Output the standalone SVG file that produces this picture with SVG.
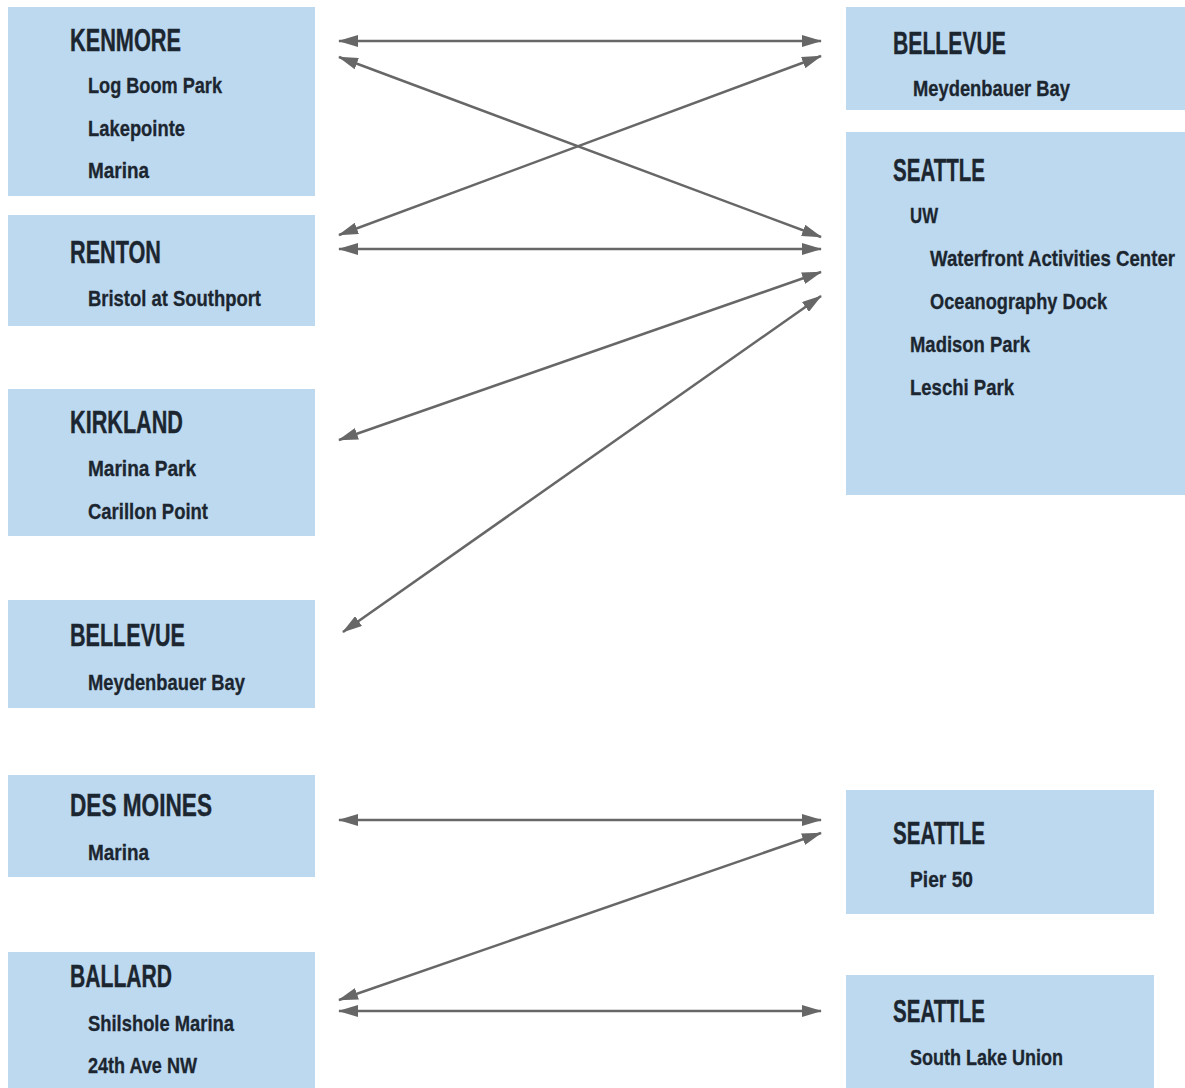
<svg xmlns="http://www.w3.org/2000/svg" width="1185" height="1088" viewBox="0 0 1185 1088">
<style>
.box{fill:#bcd9ef}
.h{font-family:"Liberation Sans Narrow","Liberation Sans",Arial,sans-serif;font-weight:bold;font-size:32px;fill:#1c2630;stroke:#1c2630;stroke-width:0.4}
.s{font-family:"Liberation Sans Narrow","Liberation Sans",Arial,sans-serif;font-weight:bold;font-size:22px;fill:#1c2630;stroke:#1c2630;stroke-width:0.3}
.c{stroke:#676767;stroke-width:2.5;fill:none;marker-start:url(#ah);marker-end:url(#ah)}
</style>
<defs>
<marker id="ah" markerUnits="userSpaceOnUse" viewBox="0 0 20 12" markerWidth="20" markerHeight="12" refX="19" refY="6" orient="auto-start-reverse">
<path d="M0,0 L20,6 L0,12 z" fill="#676767"/>
</marker>
</defs>
<rect width="1185" height="1088" fill="#ffffff"/>
<g id="kenmore">
<rect class="box" x="8" y="7" width="307" height="189"/>
<text class="h" x="70" y="51" textLength="111" lengthAdjust="spacingAndGlyphs">KENMORE</text>
<text class="s" x="88" y="93" textLength="134" lengthAdjust="spacingAndGlyphs">Log Boom Park</text>
<text class="s" x="88" y="136" textLength="97" lengthAdjust="spacingAndGlyphs">Lakepointe</text>
<text class="s" x="88" y="178" textLength="61" lengthAdjust="spacingAndGlyphs">Marina</text>
</g>
<g id="renton">
<rect class="box" x="8" y="215" width="307" height="111"/>
<text class="h" x="70" y="263" textLength="91" lengthAdjust="spacingAndGlyphs">RENTON</text>
<text class="s" x="88" y="306" textLength="173" lengthAdjust="spacingAndGlyphs">Bristol at Southport</text>
</g>
<g id="kirkland">
<rect class="box" x="8" y="389" width="307" height="147"/>
<text class="h" x="70" y="433" textLength="113" lengthAdjust="spacingAndGlyphs">KIRKLAND</text>
<text class="s" x="88" y="476" textLength="108" lengthAdjust="spacingAndGlyphs">Marina Park</text>
<text class="s" x="88" y="519" textLength="120" lengthAdjust="spacingAndGlyphs">Carillon Point</text>
</g>
<g id="bellevue-left">
<rect class="box" x="8" y="600" width="307" height="108"/>
<text class="h" x="70" y="646" textLength="115" lengthAdjust="spacingAndGlyphs">BELLEVUE</text>
<text class="s" x="88" y="690" textLength="157" lengthAdjust="spacingAndGlyphs">Meydenbauer Bay</text>
</g>
<g id="desmoines">
<rect class="box" x="8" y="775" width="307" height="102"/>
<text class="h" x="70" y="816" textLength="142" lengthAdjust="spacingAndGlyphs">DES MOINES</text>
<text class="s" x="88" y="860" textLength="61" lengthAdjust="spacingAndGlyphs">Marina</text>
</g>
<g id="ballard">
<rect class="box" x="8" y="952" width="307" height="136"/>
<text class="h" x="70" y="987" textLength="102" lengthAdjust="spacingAndGlyphs">BALLARD</text>
<text class="s" x="88" y="1031" textLength="146" lengthAdjust="spacingAndGlyphs">Shilshole Marina</text>
<text class="s" x="88" y="1073" textLength="109" lengthAdjust="spacingAndGlyphs">24th Ave NW</text>
</g>
<g id="bellevue-right">
<rect class="box" x="846" y="7" width="339" height="103"/>
<text class="h" x="893" y="54" textLength="113" lengthAdjust="spacingAndGlyphs">BELLEVUE</text>
<text class="s" x="913" y="96" textLength="157" lengthAdjust="spacingAndGlyphs">Meydenbauer Bay</text>
</g>
<g id="seattle-main">
<rect class="box" x="846" y="132" width="339" height="363"/>
<text class="h" x="893" y="181" textLength="92" lengthAdjust="spacingAndGlyphs">SEATTLE</text>
<text class="s" x="910" y="223" textLength="28" lengthAdjust="spacingAndGlyphs">UW</text>
<text class="s" x="930" y="266" textLength="245" lengthAdjust="spacingAndGlyphs">Waterfront Activities Center</text>
<text class="s" x="930" y="309" textLength="177" lengthAdjust="spacingAndGlyphs">Oceanography Dock</text>
<text class="s" x="910" y="352" textLength="120" lengthAdjust="spacingAndGlyphs">Madison Park</text>
<text class="s" x="910" y="395" textLength="104" lengthAdjust="spacingAndGlyphs">Leschi Park</text>
</g>
<g id="seattle-pier50">
<rect class="box" x="846" y="790" width="308" height="124"/>
<text class="h" x="893" y="844" textLength="92" lengthAdjust="spacingAndGlyphs">SEATTLE</text>
<text class="s" x="910" y="887" textLength="63" lengthAdjust="spacingAndGlyphs">Pier 50</text>
</g>
<g id="seattle-slu">
<rect class="box" x="846" y="975" width="308" height="113"/>
<text class="h" x="893" y="1022" textLength="92" lengthAdjust="spacingAndGlyphs">SEATTLE</text>
<text class="s" x="910" y="1065" textLength="153" lengthAdjust="spacingAndGlyphs">South Lake Union</text>
</g>
<g id="connectors">
<line class="c" x1="339" y1="41" x2="821" y2="41"/>
<line class="c" x1="339" y1="57" x2="821" y2="237"/>
<line class="c" x1="339" y1="235" x2="821" y2="56"/>
<line class="c" x1="339" y1="249" x2="821" y2="249"/>
<line class="c" x1="339" y1="440" x2="821" y2="272"/>
<line class="c" x1="343" y1="632" x2="821" y2="296"/>
<line class="c" x1="339" y1="820" x2="821" y2="820"/>
<line class="c" x1="339" y1="1000" x2="821" y2="833"/>
<line class="c" x1="339" y1="1011" x2="821" y2="1011"/>
</g>
</svg>
